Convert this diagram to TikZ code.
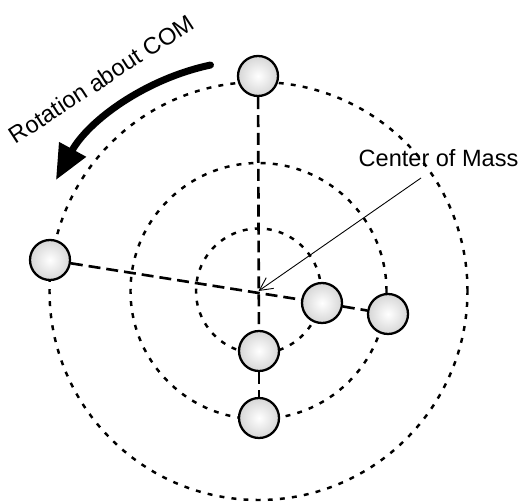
\documentclass[tikz,border=0pt]{standalone}
\usepackage{fontspec}
\setmainfont{Liberation Sans}
\usetikzlibrary{arrows.meta}

\begin{document}
\begin{tikzpicture}[x=1cm,y=1cm,font=\fontsize{13.4}{16}\selectfont]
    \tikzset{
        orbit/.style={line width=1.4pt,dash pattern=on 2.8pt off 4.1pt},
        rod/.style={line width=1.5pt,dash pattern=on 6.8pt off 3.4pt},
        mass/.style={circle,draw,line width=1.3pt,minimum size=0.8cm,inner sep=0pt,
            inner color=white,outer color=black!16},
        pointer/.style={-{Straight Barb[length=2.6mm,width=2.6mm]},line width=0.5pt},
        spin/.style={-{Triangle[length=0.7cm,width=0.58cm]},line width=0.14cm,line cap=round}
    }
    \useasboundingbox (0,0) rectangle (10.40,10.02);

    \coordinate (com) at (5.17,4.20);

    % orbits round the centre of mass
    \foreach \r in {1.25,2.56,4.18}
        \draw[orbit] (com) circle (\r);

    % the masses
    \node[mass] (top)    at (5.16,8.50) {};
    \node[mass] (left)   at (1.00,4.82) {};
    \node[mass] (innerE) at (6.44,3.96) {};
    \node[mass] (outerE) at (7.76,3.74) {};
    \node[mass] (innerS) at (5.18,3.00) {};
    \node[mass] (outerS) at (5.18,1.66) {};

    \draw[rod] (top) -- (innerS);
    \draw[rod] (innerS) -- (outerS);
    \draw[rod] (left) -- (innerE);
    \draw[rod] (innerE) -- (outerE);

    % rotation arrow, same centre, r = 4.62
    \draw[spin] (com) ++(102:4.62) arc[start angle=102,end angle=151.3,radius=4.62];
    \node[rotate=33,anchor=base] (rotlabel) at (2.12,8.30) {Rotation about COM};

    \node[anchor=base] (comlabel) at (8.77,6.69) {Center of Mass};
    \draw[pointer] ([xshift=-0.35cm,yshift=-0.23cm]comlabel.base) -- (com);
\end{tikzpicture}
\end{document}
